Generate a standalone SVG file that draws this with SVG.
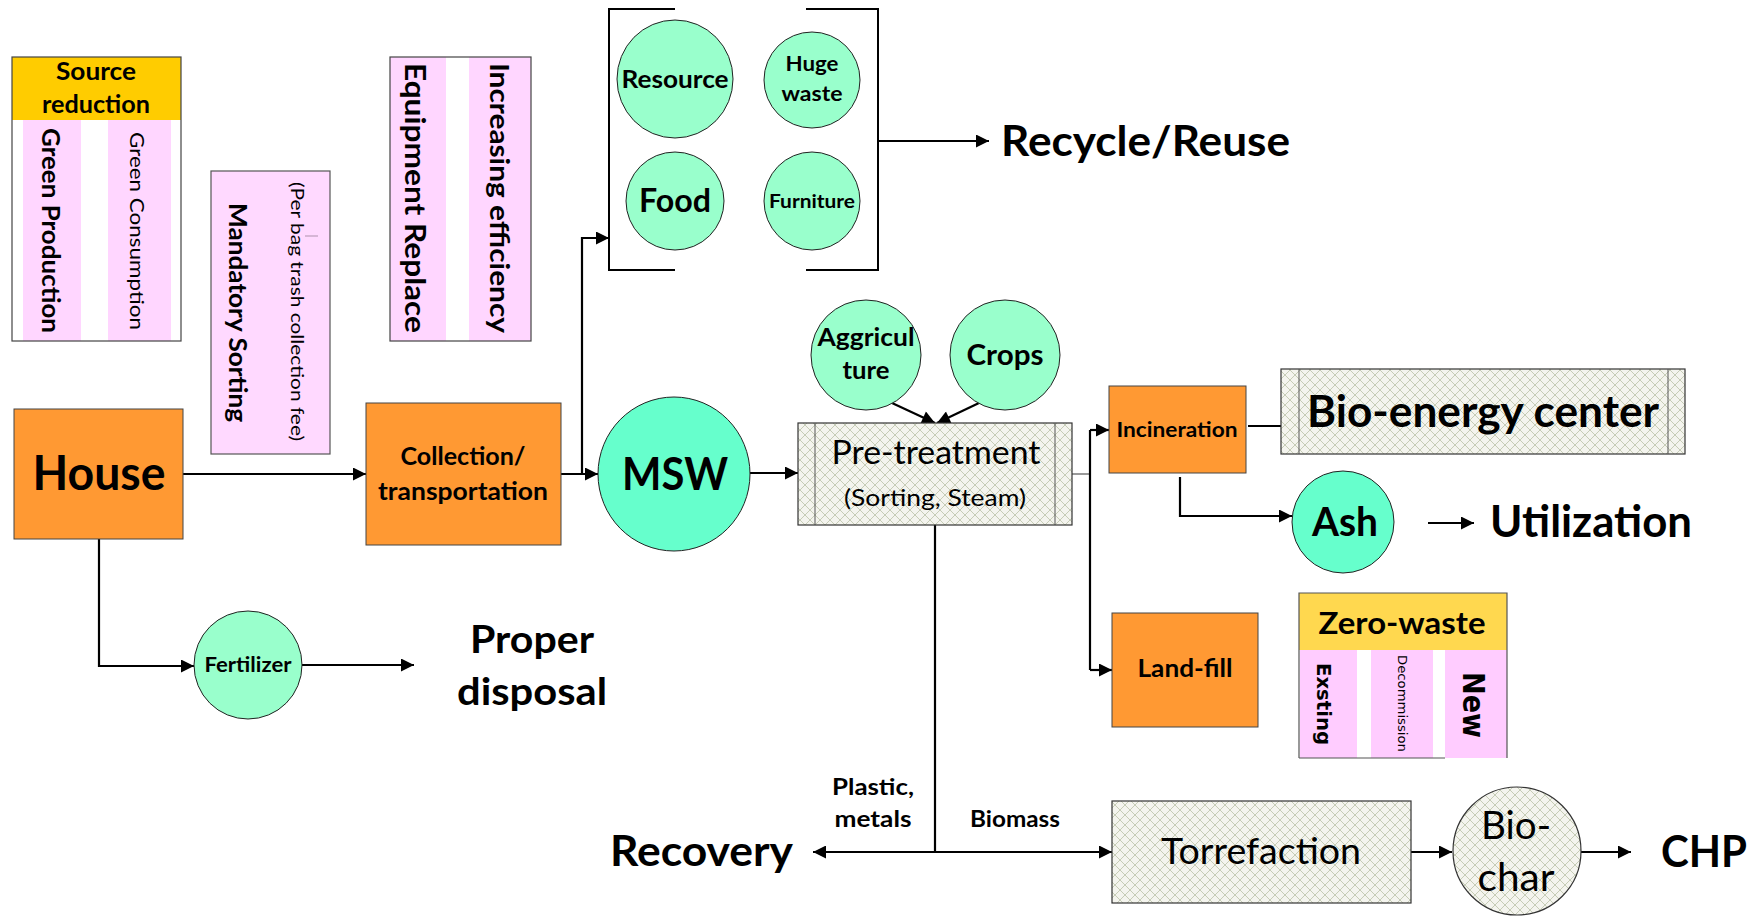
<svg xmlns="http://www.w3.org/2000/svg" width="1764" height="916" viewBox="0 0 1764 916">
<defs>
  <pattern id="hatch" width="10" height="10" patternUnits="userSpaceOnUse">
    <rect width="10" height="10" fill="#f4f4ee"/>
    <path d="M0,0 L10,10 M10,0 L0,10" stroke="#c6ccb6" stroke-width="1"/>
  </pattern>
  <marker id="ah" viewBox="0 0 10 10" refX="10" refY="5" markerWidth="15" markerHeight="13" markerUnits="userSpaceOnUse" orient="auto">
    <path d="M0,0 L10,5 L0,10 z" fill="#000"/>
  </marker>
  <style>
    .t { font-family: Lato, "Liberation Sans", sans-serif; fill: #000; }
    .b { font-weight: bold; }
    .m { text-anchor: middle; }
    .v { font-family: "DejaVu Sans", Verdana, sans-serif; fill: #000; }
    .orange { fill: #ff9933; stroke: #444; stroke-width: 1; }
    .mint { fill: #99ffcc; stroke: #222; stroke-width: 1; }
    .aqua { fill: #66ffcc; stroke: #222; stroke-width: 1; }
    .hatch { fill: url(#hatch); stroke: #333; stroke-width: 1.2; }
    .pink { fill: #ffd6ff; }
    .pink2 { fill: #ffccff; }
    .edge { fill: none; stroke: #000; stroke-width: 2.2; }
    .thin { fill: none; stroke: #555; stroke-width: 1.2; }
    .arr { marker-end: url(#ah); }
  </style>
</defs>
<rect width="1764" height="916" fill="#fff"/>

<!-- Source reduction panel -->
<g id="source-reduction">
  <rect x="12" y="57" width="169" height="284" fill="#fff"/>
  <rect x="12" y="57" width="169" height="63" fill="#ffcc00"/>
  <rect class="pink" x="23" y="120" width="58" height="221"/>
  <rect class="pink" x="108" y="120" width="63" height="221"/>
  <rect x="12" y="57" width="169" height="284" fill="none" stroke="#444" stroke-width="1.2"/>
  <text class="t b m" x="96" y="80" font-size="24" textLength="80" lengthAdjust="spacingAndGlyphs">Source</text>
  <text class="t b m" x="96" y="113" font-size="24" textLength="108" lengthAdjust="spacingAndGlyphs">reduction</text>
  <text class="t b" transform="translate(50,128) rotate(90)" x="0" y="8" font-size="24" textLength="205" lengthAdjust="spacingAndGlyphs">Green Production</text>
  <text class="t" transform="translate(137,132) rotate(90)" x="0" y="7" font-size="20" textLength="198" lengthAdjust="spacingAndGlyphs">Green Consumption</text>
</g>

<!-- Mandatory sorting panel -->
<g id="mandatory-sorting">
  <rect x="211" y="171" width="119" height="283" fill="#ffd9ff" stroke="#555" stroke-width="1.2"/>
  <line x1="305" y1="236" x2="318" y2="236" stroke="#c9a9c9" stroke-width="1.5"/>
  <text class="t b" transform="translate(237,203) rotate(90)" x="0" y="8" font-size="24" textLength="219" lengthAdjust="spacingAndGlyphs">Mandatory Sorting</text>
  <text class="t" transform="translate(297,182) rotate(90)" x="0" y="6" font-size="18" textLength="259" lengthAdjust="spacingAndGlyphs">(Per bag trash collection fee)</text>
</g>

<!-- Equipment panel -->
<g id="equipment">
  <rect x="390" y="57" width="141" height="284" fill="#fff"/>
  <rect class="pink" x="390" y="57" width="56" height="284"/>
  <rect class="pink" x="469" y="57" width="62" height="284"/>
  <rect x="390" y="57" width="141" height="284" fill="none" stroke="#444" stroke-width="1.2"/>
  <text class="t b" transform="translate(415,63) rotate(90)" x="0" y="10" font-size="28" textLength="270" lengthAdjust="spacingAndGlyphs">Equipment Replace</text>
  <text class="t b" transform="translate(499,63) rotate(90)" x="0" y="9" font-size="26" textLength="270" lengthAdjust="spacingAndGlyphs">Increasing efficiency</text>
</g>

<!-- Connectors -->
<g id="connectors">
  <path class="edge arr" d="M183,474 H366"/>
  <path class="edge arr" d="M99,539 V666 H194"/>
  <path class="edge arr" d="M302,665 H414"/>
  <path class="edge arr" d="M561,474 H598"/>
  <path class="edge arr" d="M582,474 V238 H609"/>
  <path class="edge arr" d="M878,141 H989"/>
  <path class="edge arr" d="M750,473 H798"/>
  <path class="edge arr" d="M892,403 L935,423"/>
  <path class="edge arr" d="M979,403 L937,423"/>
  <path class="thin" d="M1072,474 H1090"/>
  <path class="edge" d="M1090,430 V670"/>
  <path class="edge arr" d="M1090,430 H1109"/>
  <path class="edge arr" d="M1090,670 H1112"/>
  <path class="edge" d="M1248,426 H1281"/>
  <path class="edge arr" d="M1180,477 V516 H1292"/>
  <path class="edge arr" d="M1428,523 H1474"/>
  <path class="edge" d="M935,525 V852"/>
  <path class="edge arr" d="M935,852 H813"/>
  <path class="edge arr" d="M935,852 H1112"/>
  <path class="edge arr" d="M1411,852 H1452"/>
  <path class="edge arr" d="M1581,852 H1631"/>
</g>

<!-- Main chain -->
<g id="house">
  <rect class="orange" x="14" y="409" width="169" height="130"/>
  <text class="t b m" x="99" y="490" font-size="48" textLength="133" lengthAdjust="spacingAndGlyphs">House</text>
</g>
<g id="collection">
  <rect class="orange" x="366" y="403" width="195" height="142"/>
  <text class="t b m" x="463" y="465" font-size="24" textLength="125" lengthAdjust="spacingAndGlyphs">Collection/</text>
  <text class="t b m" x="463" y="500" font-size="24" textLength="170" lengthAdjust="spacingAndGlyphs">transportation</text>
</g>
<g id="msw">
  <ellipse class="aqua" cx="674" cy="474" rx="76" ry="77"/>
  <text class="t b m" x="675" y="490" font-size="46" textLength="106" lengthAdjust="spacingAndGlyphs">MSW</text>
</g>

<!-- Recycle group -->
<g id="recycle-bracket">
  <path d="M675,9 H609 V270 H675 M806,9 H878 V270 H806" fill="none" stroke="#000" stroke-width="2"/>
</g>
<g id="resource">
  <ellipse class="mint" cx="675" cy="79" rx="58" ry="59"/>
  <text class="t b m" x="675" y="88" font-size="24" textLength="107" lengthAdjust="spacingAndGlyphs">Resource</text>
</g>
<g id="huge-waste">
  <ellipse class="mint" cx="812" cy="80" rx="48" ry="48"/>
  <text class="t b m" x="812" y="71" font-size="21" textLength="53" lengthAdjust="spacingAndGlyphs">Huge</text>
  <text class="t b m" x="812" y="101" font-size="21" textLength="61" lengthAdjust="spacingAndGlyphs">waste</text>
</g>
<g id="food">
  <ellipse class="mint" cx="675" cy="201" rx="49" ry="49"/>
  <text class="t b m" x="675" y="212" font-size="32" textLength="72" lengthAdjust="spacingAndGlyphs">Food</text>
</g>
<g id="furniture">
  <ellipse class="mint" cx="812" cy="201" rx="48" ry="49"/>
  <text class="t b m" x="812" y="208" font-size="19" textLength="86" lengthAdjust="spacingAndGlyphs">Furniture</text>
</g>
<g id="recycle-reuse">
  <text class="t b" x="1001" y="156" font-size="42" textLength="289" lengthAdjust="spacingAndGlyphs">Recycle/Reuse</text>
</g>

<!-- Inputs to pre-treatment -->
<g id="agriculture">
  <ellipse class="mint" cx="866" cy="355" rx="55" ry="55"/>
  <text class="t b m" x="866" y="346" font-size="24" textLength="97" lengthAdjust="spacingAndGlyphs">Aggricul</text>
  <text class="t b m" x="866" y="379" font-size="24" textLength="47" lengthAdjust="spacingAndGlyphs">ture</text>
</g>
<g id="crops">
  <ellipse class="mint" cx="1005" cy="355" rx="55" ry="55"/>
  <text class="t b m" x="1005" y="365" font-size="28" textLength="77" lengthAdjust="spacingAndGlyphs">Crops</text>
</g>
<g id="pre-treatment">
  <rect class="hatch" x="798" y="423" width="274" height="102"/>
  <path d="M815,423 V525 M1055,423 V525" stroke="#555" stroke-width="1"/>
  <text class="t m" x="936" y="464" font-size="32" textLength="209" lengthAdjust="spacingAndGlyphs">Pre-treatment</text>
  <text class="t m" x="935" y="506" font-size="23" textLength="182" lengthAdjust="spacingAndGlyphs">(Sorting, Steam)</text>
</g>

<!-- Thermal branch -->
<g id="incineration">
  <rect class="orange" x="1109" y="386" width="137" height="87"/>
  <text class="t b m" x="1177" y="437" font-size="21" textLength="121" lengthAdjust="spacingAndGlyphs">Incineration</text>
</g>
<g id="bio-energy-center">
  <rect class="hatch" x="1281" y="369" width="404" height="85"/>
  <path d="M1299,369 V454 M1668,369 V454" stroke="#555" stroke-width="1"/>
  <text class="t b m" x="1483" y="427" font-size="44" textLength="352" lengthAdjust="spacingAndGlyphs">Bio-energy center</text>
</g>
<g id="ash">
  <ellipse class="aqua" cx="1343" cy="522" rx="51" ry="51"/>
  <text class="t b m" x="1345" y="536" font-size="40" textLength="66" lengthAdjust="spacingAndGlyphs">Ash</text>
</g>
<g id="utilization">
  <text class="t b" x="1490" y="537" font-size="44" textLength="202" lengthAdjust="spacingAndGlyphs">Utilization</text>
</g>
<g id="landfill">
  <rect class="orange" x="1112" y="613" width="146" height="114"/>
  <text class="t b m" x="1185" y="677" font-size="24" textLength="95" lengthAdjust="spacingAndGlyphs">Land-fill</text>
</g>
<g id="zero-waste">
  <rect x="1299" y="593" width="208" height="57" fill="#ffd84f"/>
  <rect class="pink2" x="1300" y="650" width="57" height="108"/>
  <rect class="pink2" x="1371" y="650" width="62" height="108"/>
  <rect class="pink2" x="1445" y="650" width="62" height="108"/>
  <path d="M1299,758 V593 H1507 V758 M1299,758 H1445" fill="none" stroke="#555" stroke-width="1.2"/>
  <text class="t b m" x="1402" y="634" font-size="30" textLength="167" lengthAdjust="spacingAndGlyphs">Zero-waste</text>
  <text class="v" font-weight="bold" transform="translate(1324,663) rotate(90)" x="0" y="7" font-size="20" textLength="82" lengthAdjust="spacingAndGlyphs">Exsting</text>
  <text class="v" transform="translate(1402,655) rotate(90)" x="0" y="4" font-size="12" textLength="97" lengthAdjust="spacingAndGlyphs">Decommission</text>
  <text class="v" font-weight="bold" transform="translate(1473,672) rotate(90)" x="0" y="10" font-size="30" textLength="66" lengthAdjust="spacingAndGlyphs">New</text>
</g>

<!-- Household branch -->
<g id="fertilizer">
  <ellipse class="mint" cx="248" cy="665" rx="54" ry="54"/>
  <text class="t b m" x="248" y="672" font-size="20" textLength="87" lengthAdjust="spacingAndGlyphs">Fertilizer</text>
</g>
<g id="proper-disposal">
  <text class="t b m" x="532" y="653" font-size="38" textLength="124" lengthAdjust="spacingAndGlyphs">Proper</text>
  <text class="t b m" x="532" y="705" font-size="38" textLength="150" lengthAdjust="spacingAndGlyphs">disposal</text>
</g>

<!-- Recovery / torrefaction branch -->
<g id="recovery">
  <text class="t b" x="610" y="866" font-size="42" textLength="183" lengthAdjust="spacingAndGlyphs">Recovery</text>
</g>
<g id="labels">
  <text class="t b m" x="873" y="795" font-size="23" textLength="82" lengthAdjust="spacingAndGlyphs">Plastic,</text>
  <text class="t b m" x="873" y="827" font-size="23" textLength="77" lengthAdjust="spacingAndGlyphs">metals</text>
  <text class="t b" x="970" y="827" font-size="22" textLength="90" lengthAdjust="spacingAndGlyphs">Biomass</text>
</g>
<g id="torrefaction">
  <rect class="hatch" x="1112" y="801" width="299" height="102" stroke="#666" stroke-width="2"/>
  <text class="t m" x="1261" y="864" font-size="36" textLength="200" lengthAdjust="spacingAndGlyphs">Torrefaction</text>
</g>
<g id="bio-char">
  <ellipse class="hatch" cx="1517" cy="851" rx="64" ry="64"/>
  <text class="t m" x="1516" y="839" font-size="38" textLength="70" lengthAdjust="spacingAndGlyphs">Bio-</text>
  <text class="t m" x="1516" y="891" font-size="38" textLength="77" lengthAdjust="spacingAndGlyphs">char</text>
</g>
<g id="chp">
  <text class="t b" x="1661" y="867" font-size="44" textLength="86" lengthAdjust="spacingAndGlyphs">CHP</text>
</g>
</svg>
